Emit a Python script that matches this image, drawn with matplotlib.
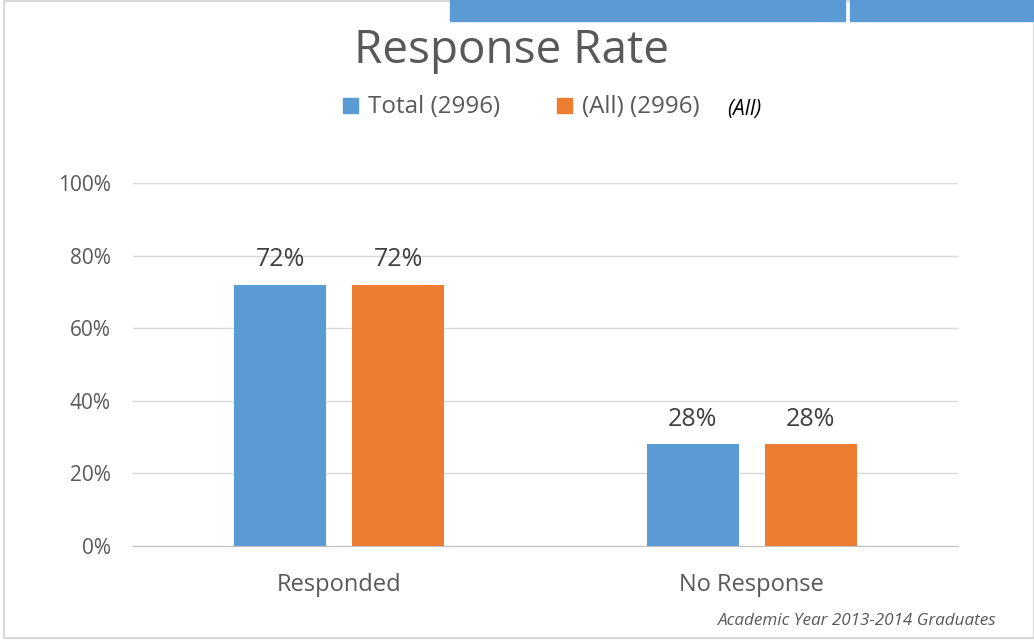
import matplotlib.pyplot as plt
from matplotlib.patches import Rectangle
import numpy as np

# dane
categories = ['Responded', 'No Response']
series_names = ['Total (2996)', '(All) (2996)']
total_vals = [0.72, 0.28]
all_vals = [0.72, 0.28]
yticks = [0, 0.2, 0.4, 0.6, 0.8, 1.0]
ytick_labels = ['0%', '20%', '40%', '60%', '80%', '100%']

blue = '#5b9bd5'
orange = '#ed7d31'
grey = '#595959'

plt.rcParams['font.family'] = ['Open Sans', 'DejaVu Sans']

fig = plt.figure(figsize=(10.34, 6.41), dpi=100)
ax = fig.add_axes([133/1034, 95/641, 825/1034, 363/641])

x = np.arange(len(categories))
w = 0.223
off = 0.143
b1 = ax.bar(x - off, total_vals, w, color=blue, label=series_names[0], zorder=3)
b2 = ax.bar(x + off, all_vals, w, color=orange, label=series_names[1], zorder=3)

for bars in (b1, b2):
    for r in bars:
        ax.text(r.get_x() + r.get_width()/2, r.get_height() + 0.035,
                f'{r.get_height()*100:.0f}%', ha='center', va='bottom',
                fontsize=18, color='#404040')

ax.set_xlim(-0.5, 1.5)
ax.set_ylim(0, 1.0)
ax.set_yticks(yticks)
ax.set_yticklabels(ytick_labels, fontsize=15, color=grey)
ax.set_xticks(x)
ax.set_xticklabels(categories, fontsize=17, color=grey)
ax.tick_params(length=0)
ax.tick_params(axis='y', pad=16)
ax.tick_params(axis='x', pad=19.5)
ax.grid(axis='y', color='#d9d9d9', lw=1, zorder=0)
ax.set_axisbelow(True)
for s in ['top', 'right', 'left']:
    ax.spines[s].set_visible(False)
ax.spines['bottom'].set_color('#bfbfbf')
ax.spines['bottom'].set_zorder(4)
ax.yaxis.get_gridlines()[0].set_visible(False)

# tytul
fig.text(512/1034, 1 - 51/641, 'Response Rate', ha='center', va='center',
         fontsize=33, color=grey)

# legenda (recznie)
leg_y = 1 - 107/641
for sx, tx, col, name in [(343, 368, blue, series_names[0]),
                          (557, 582, orange, series_names[1])]:
    fig.patches.append(Rectangle((sx/1034, 1 - 113/641), 15/1034, 15/641,
                                 transform=fig.transFigure, color=col))
    fig.text(tx/1034, leg_y, name, ha='left', va='center', fontsize=17.4,
             color=grey)
fig.text(727/1034, 1 - 109/641, '(All)', ha='left', va='center',
         fontsize=15, style='italic', color='black')
fig.text(997/1034, 1 - 621/641, 'Academic Year 2013-2014 Graduates',
         ha='right', va='center', fontsize=12.3, style='italic', color=grey)

# ramka i przyciski
fig.patches.append(Rectangle((4/1034, 3/641), 1030/1034, 637/641,
                             transform=fig.transFigure, fill=False,
                             edgecolor='#d9d9d9', lw=1.5))
fig.patches.append(Rectangle((450/1034, 1 - 21/641), 395/1034, 21/641,
                             transform=fig.transFigure, color=blue))
fig.patches.append(Rectangle((850/1034, 1 - 21/641), 184/1034, 21/641,
                             transform=fig.transFigure, color=blue))

fig.savefig('out.png', dpi=100)
